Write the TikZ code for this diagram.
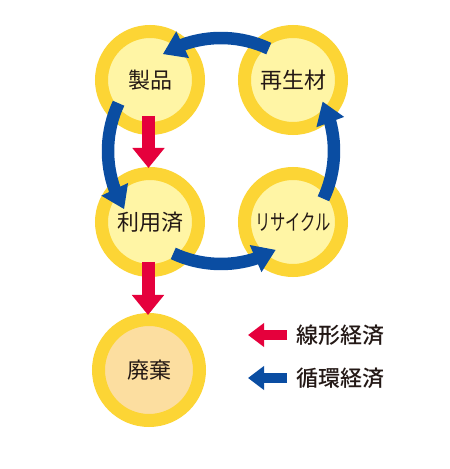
\documentclass[tikz,border=0pt]{standalone}
\usepackage{fontspec}
\newfontfamily\jp{Noto Sans CJK JP}
\newfontfamily\jpmed{Noto Sans CJK JP Medium}
\usetikzlibrary{arrows.meta,bending,calc}
\definecolor{ringY}{HTML}{FCD535}
\definecolor{innerY}{HTML}{FFF5A5}
\definecolor{innerP}{HTML}{FCDEA0}
\definecolor{redA}{HTML}{E5003C}
\definecolor{blueA}{HTML}{0A4DA2}
\definecolor{txt}{HTML}{231815}
\tikzset{
  circ/.style={circle, draw=ringY, line width=13pt, fill=innerY, minimum size=97pt, inner sep=0pt, text=txt, font=\jp\fontsize{22}{26}\selectfont},
  redarr/.style={draw=redA, line width=13pt, -{Triangle[width=31pt,length=20pt]}},
  bluearc/.style={draw=blueA, line width=12.5pt, -{Triangle[width=28pt,length=22pt,flex]}},
  legred/.style={draw=redA, line width=10pt, -{Triangle[width=23pt,length=16pt]}},
  legblue/.style={draw=blueA, line width=10pt, -{Triangle[width=23pt,length=16pt]}},
  legtxt/.style={anchor=west, text=txt, inner sep=0pt, font=\jpmed\fontsize{22}{26}\selectfont}
}
\begin{document}
\begin{tikzpicture}[x=1pt,y=1pt]
\useasboundingbox (0,0) rectangle (450,469);
\fill[white] (0,0) rectangle (450,469);
\coordinate (C) at (221,318);
\node[circ] (seihin) at (150,389) {製品};
\node[circ] (saisei) at (293,389) {再生材};
\node[circ] (riyou) at (150,247) {利用済};
\node[circ] (recycle) at (293,247) {\resizebox{76pt}{\height}{リサイクル}};
\node[circ, fill=innerP, minimum size=101pt] (haiki) at (149,99) {廃棄};
% circular flow
\draw[bluearc] ($(C)+(65:113)$) arc[start angle=65, end angle=121, radius=113];
\draw[bluearc] ($(C)+(155:113)$) arc[start angle=155, end angle=211, radius=113];
\draw[bluearc] ($(C)+(245:113)$) arc[start angle=245, end angle=299, radius=113];
\draw[bluearc] ($(C)+(-25:113)$) arc[start angle=-25, end angle=26, radius=113];
% linear flow
\draw[redarr] ($(seihin.center)+(-1.5,-36)$) -- ($(riyou.center)+(-1.5,54)$);
\draw[redarr] ($(riyou.center)+(-2,-40)$) -- ($(haiki.center)+(-1,55)$);
% legend
\node[legtxt] (lin) at (296,134) {線形経済};
\node[legtxt] (circl) at (296,91) {循環経済};
\coordinate (lr) at (248,134);
\coordinate (lb) at (248,91);
\draw[legred] ($(lin.west)+(-9,0)$) -- (lr);
\draw[legblue] ($(circl.west)+(-9,0)$) -- (lb);
\end{tikzpicture}
\end{document}
